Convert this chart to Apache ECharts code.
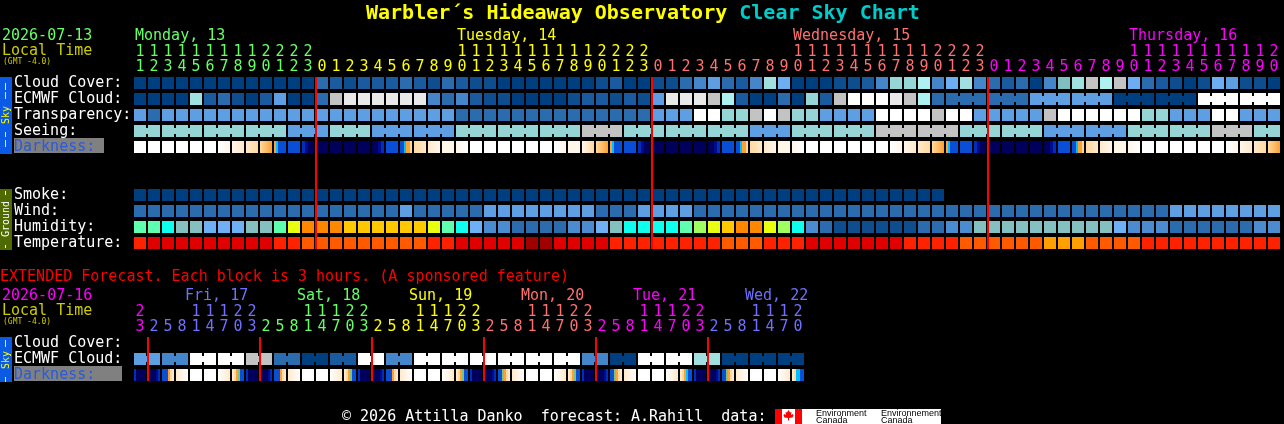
<!DOCTYPE html>
<html><head><meta charset="utf-8">
<style>html,body{margin:0;padding:0;background:#000;overflow:hidden}#c{width:1284px;height:424px}</style>
<script src="https://cdn.jsdelivr.net/npm/echarts@6/dist/echarts.min.js"></script>
</head><body><div id="c"></div>
<script>
// ---------- values ----------
const rowLabels = ['Cloud Cover:','ECMWF Cloud:','Transparency:','Seeing:','Darkness:','','','Smoke:','Wind:','Humidity:','Temperature:'];
const extRowLabels = ['Cloud Cover:','ECMWF Cloud:','Darkness:'];
const hours = [11,12,13,14,15,16,17,18,19,20,21,22,23,
 0,1,2,3,4,5,6,7,8,9,10,11,12,13,14,15,16,17,18,19,20,21,22,23,
 0,1,2,3,4,5,6,7,8,9,10,11,12,13,14,15,16,17,18,19,20,21,22,23,
 0,1,2,3,4,5,6,7,8,9,10,11,12,13,14,15,16,17,18,19,20];
const hoursExt = [23,2,5,8,11,14,17,20,23,2,5,8,11,14,17,20,23,2,5,8,11,14,17,20,23,2,5,8,11,14,17,20,23,2,5,8,11,14,17,20,23,2,5,8,11,14,17,20];
const dayColors = ['#66ff66','#ffff00','#ff7070','#ff00ff'];
const extDayColors = ['#ff00ff','#7070ff','#66ff66','#ffff00','#ff7070','#ff00ff','#7070ff'];
const dayNames = ['Monday, 13','Tuesday, 14','Wednesday, 15','Thursday, 16'];
const dayNameCols = [0,23,47,71];
const extDayNames = ['Fri, 17','Sat, 18','Sun, 19','Mon, 20','Tue, 21','Wed, 22'];
const extDayNameCols = [3,11,19,27,35,43];
const midnights = [13,37,61];
const extMidnights = [1,9,17,25,33,41];

// sky scale, darkest (clear) to white (overcast)
const skyScale = ['#003f7f','#0f4e8e','#1a5a9e','#2b6cae','#4585c9','#5e9ee2','#6dadf2','#80bfbf','#95d5d5','#a0e0e0','#aff0f0','#c3c3c3','#e9e9e9','#ffffff'];
const humidityScale = ['#0f4e8e','#2b6cae','#4b8bd0','#6eb0f5','#85c0c0','#0fffef','#5fffb0','#a0ff60','#e8ff10','#ffc800','#ff8800'];
const temperatureScale = ['#a00000','#e00000','#ff2200','#ff5a00','#ffa000'];
const darknessScale = ['#00005c','#000a90','#0030b8','#0a4ed8','#00c0ff','#80c080','#ffa030','#ffd9a0','#ffe9cc','#fff6ea','#ffffff'];

const cloudCover = [0,0,0,0,0,0,0,0,0,0,0,0,0,3,2,1,2,2,2,3,2,1,3,2,1,1,0,0,0,0,0,0,0,1,2,0,0,1,1,3,4,5,3,2,4,9,6,0,0,0,1,1,2,4,8,8,10,4,6,9,4,3,2,3,0,4,7,9,11,10,11,6,3,2,1,0,1,6,5,1,1,0];
const ecmwfCloud = [0,0,0,0,9,2,3,1,0,2,5,0,0,3,11,12,12,12,12,12,12,4,3,4,2,1,1,0,0,0,0,1,2,2,1,2,1,5,12,12,12,11,10,2,0,0,3,0,8,2,11,13,13,13,12,11,10,3,3,3,3,3,3,3,5,5,5,5,5,5,0,0,0,0,0,0,13,13,13,13,13,13];
const ecmwfBlocks = [1,1,1,1,1,1,1,1,1,1,1,1,1,1,1,1,1,1,1,1,1,1,1,1,1,1,1,1,1,1,1,1,1,1,1,1,1,1,1,1,1,1,1,1,1,1,1,1,1,1,1,1,1,1,1,1,1,1,3,3,3,3,3,3,3,3];
const transparency = [5,3,5,5,5,5,5,5,5,5,5,5,5,5,5,5,5,5,5,5,5,5,5,3,3,3,3,3,3,3,3,3,3,3,3,3,3,5,5,5,13,13,8,8,11,13,11,8,8,5,5,5,5,13,13,13,13,11,13,13,5,5,5,5,5,11,13,13,13,13,13,13,8,8,5,5,5,13,13,5,5,5];
const seeing = [8,8,8,8,8,8,8,8,8,8,8,5,5,5,8,8,8,5,5,5,5,5,5,8,8,8,8,8,8,8,8,8,11,11,11,8,8,8,8,8,8,8,8,8,5,5,5,8,8,8,8,8,8,11,11,11,11,11,11,8,8,8,8,8,8,5,5,5,5,5,5,8,8,8,8,8,8,11,11,11,8,8];
const seeingBlocks = [2,3,3,3,3,3,3,3,3,3,3,3,3,3,3,3,3,3,3,3,3,3,3,3,3,3,3,2];
const smoke = [0,0,0,0,0,0,0,0,0,0,0,0,0,0,0,0,0,0,0,0,0,0,0,0,0,0,0,0,0,0,0,0,0,0,0,0,0,0,0,0,0,0,0,0,0,0,0,0,0,0,0,0,0,0,0,0,0,0];
const wind = [3,3,3,3,3,3,3,3,3,3,3,3,3,3,3,3,3,3,3,5,3,3,3,3,3,5,5,5,5,5,5,5,5,3,3,3,5,5,5,5,3,3,3,3,3,3,3,3,3,3,3,3,3,3,3,3,3,3,3,3,3,3,3,3,3,3,3,3,3,3,3,3,3,3,5,5,5,5,5,5,5,5];
const humidity = [6,6,5,4,4,3,3,3,4,4,6,8,10,10,10,9,9,9,9,9,9,8,6,5,3,2,2,1,1,1,1,2,2,3,4,5,5,5,5,6,7,8,9,10,10,8,7,5,2,1,0,0,0,0,0,0,1,1,2,2,4,4,4,4,4,4,4,4,4,4,3,2,2,2,1,1,1,1,1,1,2,2];
const temperature = [2,1,1,1,1,1,1,1,1,1,2,2,3,3,3,3,3,3,3,3,3,2,2,1,1,1,1,1,0,0,1,1,1,1,2,2,2,2,2,2,2,2,3,3,3,2,2,2,1,1,1,1,1,1,1,2,2,2,2,3,3,3,3,3,3,4,4,4,3,3,3,3,2,2,2,2,2,2,2,2,2,2];
// darkness, per block: two entries fade, more entries are equal bands left to right
const darkness = [[10],[10],[10],[10],[10],[10],[10,9],[9,8],[8,7],[7,6],[6,4,3,3,3,3],[3],[2,1,0,0],[0],[0],[0],[0],[0,0,1,2],[3],[3,3,4,6,6,7],[7,8],[8,9],[9,9],[9,10],
 [10],[10],[10],[10],[10],[10],[10,9],[9,9],[9,7],[7,6],[6,4,3,3,3,3],[3],[2,1,0,0],[0],[0],[0],[0],[0,0,1,2],[3],[3,3,4,6,6,7],[7,8],[8,9],[9,9],[9,10],
 [10],[10],[10],[10],[10],[10],[10,9],[9,8],[8,7],[7,6],[6,4,3,3,3,3],[3],[2,1,0,0],[0],[0],[0],[0],[0,0,1,2],[3],[3,3,4,6,6,7],[7,8],[8,9],[9,9],[9,10],
 [10],[10],[10],[10],[10],[10],[10,9],[9,8],[8,7],[7,6]];

const extCloudCover = [];
const extEcmwf = [5,5,4,4,13,13,13,13,11,11,3,3,0,0,2,2,13,13,4,4,13,13,13,13,13,13,13,13,13,13,13,13,4,4,0,0,13,13,13,13,9,9,0,0,0,0,0,0];
const extBlocks = [2,2,2,2,2,2,2,2,2,2,2,2,2,2,2,2,2,2,2,2,2,2,2,2];
const extDarkness = [[2,0,0,0,0,0],[0,0,0,0,1,2],[3,3,3,6,7,8],[8,10],[10],[10],[10,8],[8,7,6,5,3,3],[2,0,0,0,0,0],[0,0,0,0,1,2],[3,3,3,6,7,8],[8,10],[10],[10],[10,8],[8,7,6,5,3,3],
 [2,0,0,0,0,0],[0,0,0,0,1,2],[3,3,3,6,7,8],[8,10],[10],[10],[10,8],[8,7,6,5,3,3],[2,0,0,0,0,0],[0,0,0,0,1,2],[3,3,5,6,7,8],[8,10],[10],[10],[10,8],[8,7,6,5,3,3],
 [2,0,0,0,0,0],[0,0,0,0,1,2],[3,3,5,6,7,8],[8,10],[10],[10],[10,8],[8,7,6,4,3,3],[2,0,0,0,0,0],[0,0,0,0,1,2],[3,3,5,6,7,8],[8,10],[10],[10],[10,8],[8,7,4,4,3,3]];

// ---------- helpers ----------
const MONO = '"DejaVu Sans Mono", monospace';
const tens = a => a.map(h => h >= 10 ? String(Math.floor(h / 10)) : '');
const ones = a => a.map(h => String(h % 10));
function dayIndex(a){ let d = 0; return a.map((h, i) => { if (i && h < a[i-1]) d++; return d; }); }
const dayOf = dayIndex(hours), extDayOf = dayIndex(hoursExt);
function joins(blocks){ const out = []; blocks.forEach(n => { for (let k = 0; k < n; k++) out.push(k < n - 1 ? 1 : 0); }); return out; }
function rowData(values, rowIdx, scale, blocks){
  const j = blocks ? joins(blocks) : [];
  return values.map((v, i) => [i, rowIdx, scale[v], j[i] || 0]);
}
function renderBlock(params, api){
  const c = api.coord([api.value(0), api.value(1)]);
  const s = api.size([1, 1]);
  const w = s[0] - 2, h = s[1] - 4;
  const fill = api.value(2);
  const children = [{type:'rect', shape:{x:c[0]-w/2, y:c[1]-h/2, width:w, height:h}, style:{fill}}];
  if (api.value(3)) children.push({type:'rect', shape:{x:c[0]+w/2, y:c[1]-3, width:s[0]-w, height:6}, style:{fill}});
  return {type:'group', children};
}
function gradientFor(levels){
  if (levels.length === 1) return darknessScale[levels[0]];
  const stops = [];
  if (levels.length === 2) {
    stops.push({offset:0, color:darknessScale[levels[0]]},{offset:1, color:darknessScale[levels[1]]});
  } else {
    levels.forEach((l, i) => {
      stops.push({offset:i/levels.length, color:darknessScale[l]},{offset:(i+1)/levels.length, color:darknessScale[l]});
    });
  }
  return {type:'linear', x:0, y:0, x2:1, y2:0, colorStops:stops};
}
function darknessSeries(values, rowIdx, xi, yi){
  return {type:'custom', xAxisIndex:xi, yAxisIndex:yi, z:3, silent:true,
    data: values.map((v, i) => [i, rowIdx]),
    renderItem(params, api){
      const c = api.coord([api.value(0), api.value(1)]);
      const s = api.size([1, 1]);
      const w = s[0] - 2, h = s[1] - 4;
      return {type:'rect', shape:{x:c[0]-w/2, y:c[1]-h/2, width:w, height:h}, style:{fill:gradientFor(values[params.dataIndex])}};
    }};
}
function blockSeries(data, xi, yi){
  return {type:'custom', xAxisIndex:xi, yAxisIndex:yi, z:3, silent:true, data, renderItem:renderBlock, encode:{x:0, y:1}};
}
function midnightSeries(list, firstRow, lastRow, xi, yi){
  return {type:'custom', xAxisIndex:xi, yAxisIndex:yi, z:6, silent:true, clip:false,
    data:list.map(c => [c, firstRow, lastRow]),
    renderItem(params, api){
      const a = api.coord([api.value(0), api.value(1)]);
      const b = api.coord([api.value(0), api.value(2)]);
      const s = api.size([1, 1]);
      const top = a[1] - (s[1]-4)/2, bottom = b[1] + (s[1]-4)/2;
      return {type:'rect', shape:{x:a[0]-s[0]/2, y:top, width:2, height:bottom-top}, style:{fill:'#ff0000'}};
    }};
}
function hourAxis(grid, data, colorOf, offset){
  return {type:'category', gridIndex:grid, position:'top', data, offset, z:8,
    axisLine:{show:false}, axisTick:{show:false}, splitLine:{show:false},
    axisLabel:{show:true, interval:0, margin:0, fontFamily:MONO, fontSize:15, color:(v, i) => colorOf[i]}};
}
function rowAxis(grid, data){
  return {type:'category', gridIndex:grid, inverse:true, data, z:8,
    axisLine:{show:false}, axisTick:{show:false}, splitLine:{show:false},
    axisLabel:{show:true, interval:0, margin:119, align:'left', fontFamily:MONO, fontSize:15, padding:[0,0,4,0],
      color:v => v === 'Darkness:' ? '#2a5ad8' : '#ffffff'}};
}
const txt = (text, x, y, fill, size, extra) => ({type:'text', z:7, x, y, style:Object.assign({text, fill, font:`${size}px ${MONO}`, textVerticalAlign:'middle'}, extra||{})});
const up = (text, x, y, fill, size) => ({type:'text', z:7, x, y, rotation:Math.PI/2, originX:0, originY:0, style:{text, fill, font:`${size}px ${MONO}`, textAlign:'center', textVerticalAlign:'middle'}});
const box = (x, y, width, height, fill) => ({type:'rect', z:1, shape:{x, y, width, height}, style:{fill}});
const dash = (y, length, fill) => ({type:'rect', z:2, shape:{x:5, y, width:1, height:length}, style:{fill}});

const hourColors = dayOf.map(d => dayColors[d]);
const extHourColors = extDayOf.map(d => extDayColors[d]);

const graphics = [
  txt('2026-07-13', 2, 36, '#66ff66', 15), txt('Local Time', 2, 51.5, '#cccc00', 15), txt('(GMT -4.0)', 3, 62, '#cccc00', 8),
  txt('EXTENDED Forecast. Each block is 3 hours. (A sponsored feature)', 0, 277.5, '#ff0000', 15),
  txt('2026-07-16', 2, 296, '#ff00ff', 15), txt('Local Time', 2, 311.5, '#cccc00', 15), txt('(GMT -4.0)', 3, 322, '#cccc00', 8),
  box(14, 138, 90, 15, '#808080'), box(14, 366, 108, 15, '#808080'),
  box(0, 77, 12, 77, '#0a5ae6'), box(0, 189, 12, 61, '#4f6a00'), box(0, 337, 12, 45, '#0a5ae6'),
  dash(83, 7, '#ffff00'), dash(92, 7, '#ffff00'), up('Sky', 6, 115, '#ffff00', 10), dash(132, 5, '#ffff00'), dash(140, 7, '#ffff00'),
  dash(191, 4, '#ffffff'), up('Ground', 6, 219, '#ffffff', 10), dash(245, 3, '#ffffff'),
  dash(340, 7, '#ffff00'), up('Sky', 6, 360, '#ffff00', 10), dash(377, 5, '#ffff00'),
  txt('\u00a9 2026 Attilla Danko  forecast: A.Rahill  data:', 342, 417, '#ffffff', 15),
  box(775, 409, 27, 15, '#ff0000'), box(782, 409, 13, 15, '#ffffff'), box(802, 409, 139, 15, '#ffffff'),
  {type:'polygon', z:2, shape:{points:[[788.5,410],[790,412.5],[791.5,412],[791,415],[793,414],[793.5,415.5],[792.5,417.5],[789,418],[789,420.5],[788,420.5],[788,418],[784.5,417.5],[783.5,415.5],[784,414],[786,415],[785.5,412],[787,412.5]]}, style:{fill:'#ff0000'}},
  {type:'text', z:3, x:816, y:410, style:{text:'Environment\nCanada', fill:'#000', font:'9px "Liberation Sans", sans-serif', lineHeight:7}},
  {type:'text', z:3, x:881, y:410, style:{text:'Environnement\nCanada', fill:'#000', font:'9px "Liberation Sans", sans-serif', lineHeight:7}},
];
dayNames.forEach((n, i) => graphics.push(txt(n, 135 + dayNameCols[i] * 14, 36, dayColors[i], 15)));
extDayNames.forEach((n, i) => graphics.push(txt(n, 143 + extDayNameCols[i] * 14, 296, extDayColors[i + 1], 15)));

const option = {
  backgroundColor:'#000000', animation:false,
  title:{left:366, top:2, padding:0,
    text:'{a|Warbler\u00b4s Hideaway Observatory}{b| Clear Sky Chart}',
    textStyle:{rich:{a:{color:'#ffff00', fontFamily:MONO, fontSize:20, fontWeight:'bold', lineHeight:24},
                     b:{color:'#00cccc', fontFamily:MONO, fontSize:20, fontWeight:'bold', lineHeight:24}}}},
  graphic:graphics,
  grid:[{left:133, top:75, width:1148, height:176},
        {left:133, top:335, width:672, height:48}],
  xAxis:[hourAxis(0, ones(hours), hourColors, 0), hourAxis(0, tens(hours), hourColors, 15),
         hourAxis(1, ones(hoursExt), extHourColors, 0), hourAxis(1, tens(hoursExt), extHourColors, 15)],
  yAxis:[rowAxis(0, rowLabels), rowAxis(1, extRowLabels)],
  series:[
    blockSeries(rowData(cloudCover, 0, skyScale), 0, 0),
    blockSeries(rowData(ecmwfCloud, 1, skyScale, ecmwfBlocks), 0, 0),
    blockSeries(rowData(transparency, 2, skyScale), 0, 0),
    blockSeries(rowData(seeing, 3, skyScale, seeingBlocks), 0, 0),
    darknessSeries(darkness, 4, 0, 0),
    blockSeries(rowData(smoke, 7, skyScale), 0, 0),
    blockSeries(rowData(wind, 8, skyScale), 0, 0),
    blockSeries(rowData(humidity, 9, humidityScale), 0, 0),
    blockSeries(rowData(temperature, 10, temperatureScale), 0, 0),
    blockSeries(rowData(extCloudCover, 0, skyScale), 2, 1),
    blockSeries(rowData(extEcmwf, 1, skyScale, extBlocks), 2, 1),
    darknessSeries(extDarkness, 2, 2, 1),
    midnightSeries(midnights, 0, 10, 0, 0),
    midnightSeries(extMidnights, 0, 2, 2, 1)
  ]
};
echarts.init(document.getElementById('c'), null, {renderer:'canvas'}).setOption(option);
</script></body></html>
